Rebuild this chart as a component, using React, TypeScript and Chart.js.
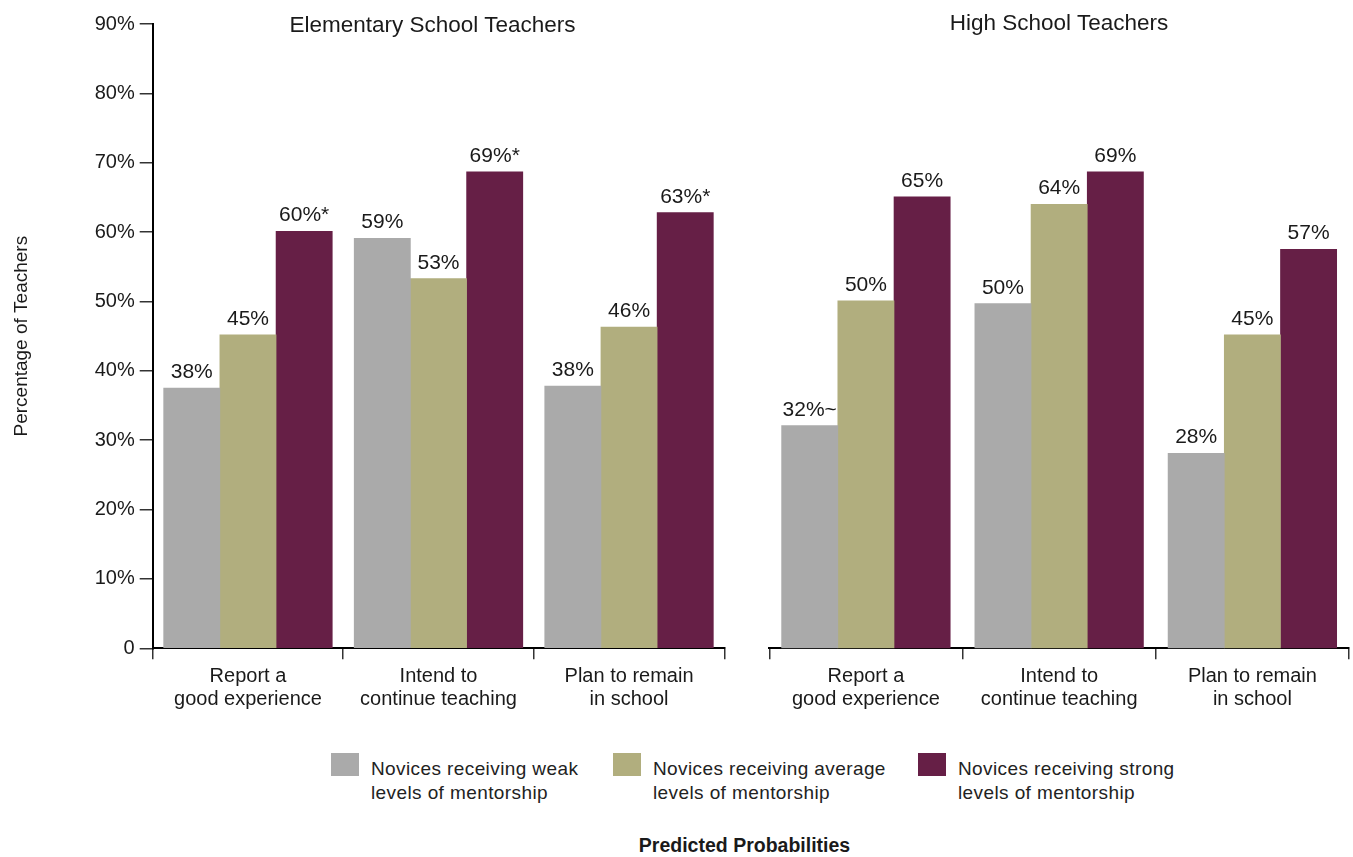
import React, { useEffect, useRef } from "react";
import { Chart, registerables } from "chart.js";

Chart.register(...registerables);

const FONT = "'Liberation Sans', Arial, Helvetica, sans-serif";
const TEXT = "#1a1a1a";

// ---------- data ----------
const categories: string[][] = [
  ["Report a", "good experience"],
  ["Intend to", "continue teaching"],
  ["Plan to remain", "in school"],
];

const seriesNames: string[][] = [
  ["Novices receiving weak", "levels of mentorship"],
  ["Novices receiving average", "levels of mentorship"],
  ["Novices receiving strong", "levels of mentorship"],
];
const seriesColors = ["#AAAAAA", "#B1AE7E", "#661F46"];

const elemWeak = [37.5, 59.1, 37.8];
const elemAverage = [45.2, 53.3, 46.3];
const elemStrong = [60.1, 68.7, 62.8];
const elemWeakLabels = ["38%", "59%", "38%"];
const elemAverageLabels = ["45%", "53%", "46%"];
const elemStrongLabels = ["60%*", "69%*", "63%*"];

const highWeak = [32.1, 49.7, 28.1];
const highAverage = [50.1, 64.0, 45.2];
const highStrong = [65.1, 68.7, 57.5];
const highWeakLabels = ["32%~", "50%", "28%"];
const highAverageLabels = ["50%", "64%", "45%"];
const highStrongLabels = ["65%", "69%", "57%"];

const yMin = 0;
const yMax = 90;
const yStep = 10;

const panelTitles = ["Elementary School Teachers", "High School Teachers"];
const yAxisTitle = "Percentage of Teachers";
const footerTitle = "Predicted Probabilities";

// ---------- helpers ----------
function makeValueLabelPlugin(labels: string[][]) {
  return {
    id: "valueLabels",
    afterDatasetsDraw(chart: any) {
      const ctx = chart.ctx;
      ctx.save();
      ctx.font = `21px ${FONT}`;
      ctx.fillStyle = TEXT;
      ctx.textAlign = "center";
      ctx.textBaseline = "alphabetic";
      chart.data.datasets.forEach((_ds: any, i: number) => {
        const meta = chart.getDatasetMeta(i);
        meta.data.forEach((bar: any, j: number) => {
          ctx.fillText(labels[i][j], bar.x, bar.y - 10);
        });
      });
      ctx.restore();
    },
  };
}

function makeConfig(
  values: number[][],
  labels: string[][],
  showY: boolean,
  padding: { left: number; right: number; top: number; bottom: number },
  yWidth: number,
  xHeight: number
): any {
  return {
    type: "bar",
    data: {
      labels: categories,
      datasets: values.map((v, i) => ({
        label: seriesNames[i].join(" "),
        data: v,
        backgroundColor: seriesColors[i],
        borderWidth: 0,
        barThickness: 56.2,
      })),
    },
    options: {
      responsive: false,
      animation: false,
      devicePixelRatio: 1,
      layout: { padding },
      plugins: {
        legend: { display: false },
        tooltip: { enabled: false },
        title: { display: false },
      },
      scales: {
        x: {
          type: "category",
          offset: true,
          afterFit(scale: any) {
            scale.height = xHeight;
          },
          grid: {
            display: true,
            offset: true,
            drawOnChartArea: false,
            drawTicks: true,
            tickLength: 11,
            color: "#333",
            lineWidth: 1.5,
          },
          border: { display: true, color: "#000", width: 2 },
          ticks: {
            color: TEXT,
            font: { family: FONT, size: 20, lineHeight: 1.15 },
            padding: 6,
            maxRotation: 0,
            autoSkip: false,
          },
        },
        y: {
          display: showY,
          min: yMin,
          max: yMax,
          afterFit(scale: any) {
            scale.width = yWidth;
          },
          grid: {
            display: true,
            drawOnChartArea: false,
            drawTicks: true,
            tickLength: 13,
            color: "#333",
            lineWidth: 1.5,
          },
          border: { display: true, color: "#000", width: 2 },
          ticks: {
            stepSize: yStep,
            color: TEXT,
            padding: 5,
            font: { family: FONT, size: 20 },
            callback: (v: number) => (v === 0 ? "0" : `${v}%`),
          },
          title: {
            display: true,
            text: yAxisTitle,
            color: TEXT,
            font: { family: FONT, size: 19, lineHeight: 1.2 },
            padding: { top: 10, bottom: 0 },
          },
        },
      },
    },
    plugins: [makeValueLabelPlugin(labels)],
  };
}

export default function App() {
  const leftRef = useRef<HTMLCanvasElement | null>(null);
  const rightRef = useRef<HTMLCanvasElement | null>(null);

  useEffect(() => {
    const left = new Chart(
      leftRef.current as HTMLCanvasElement,
      makeConfig(
        [elemWeak, elemAverage, elemStrong],
        [elemWeakLabels, elemAverageLabels, elemStrongLabels],
        true,
        { left: 0, right: 15.7, top: 24, bottom: 0 },
        152.7,
        81.7
      )
    );
    const right = new Chart(
      rightRef.current as HTMLCanvasElement,
      makeConfig(
        [highWeak, highAverage, highStrong],
        [highWeakLabels, highAverageLabels, highStrongLabels],
        false,
        { left: 29.3, right: 4, top: 24, bottom: 0 },
        0,
        81.7
      )
    );
    return () => {
      left.destroy();
      right.destroy();
    };
  }, []);

  const legendLeft = [331, 613, 918];

  return (
    <div
      style={{
        position: "absolute",
        left: 0,
        top: 0,
        width: 1353,
        height: 857,
        background: "#fff",
        fontFamily: FONT,
        color: TEXT,
        overflow: "hidden",
      }}
    >
      <canvas
        ref={leftRef}
        width={740}
        height={730}
        style={{ position: "absolute", left: 0, top: 0 }}
      />
      <canvas
        ref={rightRef}
        width={613}
        height={730}
        style={{ position: "absolute", left: 740, top: 0 }}
      />
      <div
        style={{
          position: "absolute",
          left: 432.5,
          top: 14,
          transform: "translateX(-50%)",
          fontSize: 22.5,
          lineHeight: 1,
          whiteSpace: "nowrap",
        }}
      >
        {panelTitles[0]}
      </div>
      <div
        style={{
          position: "absolute",
          left: 1059,
          top: 12,
          transform: "translateX(-50%)",
          fontSize: 22.5,
          lineHeight: 1,
          whiteSpace: "nowrap",
        }}
      >
        {panelTitles[1]}
      </div>
      {seriesNames.map((name, i) => (
        <div key={i}>
          <div
            style={{
              position: "absolute",
              left: legendLeft[i],
              top: 753,
              width: 28,
              height: 23,
              background: seriesColors[i],
            }}
          />
          <div
            style={{
              position: "absolute",
              left: legendLeft[i] + 40,
              top: 757,
              fontSize: 19,
              lineHeight: "23.5px",
              letterSpacing: 0.4,
              whiteSpace: "nowrap",
              color: "#222",
            }}
          >
            {name[0]}
            <br />
            {name[1]}
          </div>
        </div>
      ))}
      <div
        style={{
          position: "absolute",
          left: 744.5,
          top: 835.5,
          transform: "translateX(-50%)",
          fontSize: 19.5,
          fontWeight: "bold",
          lineHeight: 1,
          whiteSpace: "nowrap",
        }}
      >
        {footerTitle}
      </div>
    </div>
  );
}
